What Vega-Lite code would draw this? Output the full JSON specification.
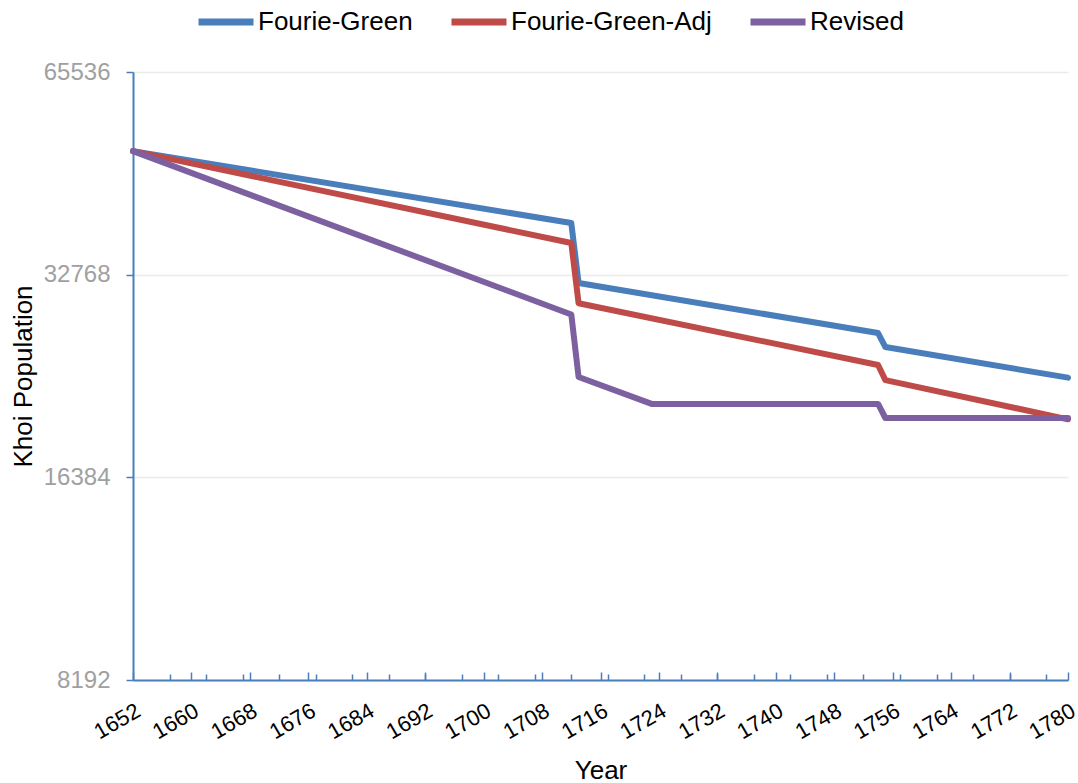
{
  "$schema": "https://vega.github.io/schema/vega-lite/v6.json",
  "width": 935,
  "height": 608,
  "autosize": {"type": "none"},
  "padding": {"left": 133, "top": 72, "right": 10, "bottom": 103},
  "background": "white",
  "config": {"font": "Liberation Sans", "view": {"stroke": null}},
  "data": {
    "values": [
      {"Year": 1652, "Series": "Fourie-Green", "Population": 50000},
      {"Year": 1712, "Series": "Fourie-Green", "Population": 39100},
      {"Year": 1713, "Series": "Fourie-Green", "Population": 31850},
      {"Year": 1754, "Series": "Fourie-Green", "Population": 26840},
      {"Year": 1755, "Series": "Fourie-Green", "Population": 25580},
      {"Year": 1780, "Series": "Fourie-Green", "Population": 23040},
      {"Year": 1652, "Series": "Fourie-Green-Adj", "Population": 50000},
      {"Year": 1712, "Series": "Fourie-Green-Adj", "Population": 36520},
      {"Year": 1713, "Series": "Fourie-Green-Adj", "Population": 29720},
      {"Year": 1754, "Series": "Fourie-Green-Adj", "Population": 24060},
      {"Year": 1755, "Series": "Fourie-Green-Adj", "Population": 22850},
      {"Year": 1780, "Series": "Fourie-Green-Adj", "Population": 19980},
      {"Year": 1652, "Series": "Revised", "Population": 50000},
      {"Year": 1712, "Series": "Revised", "Population": 28600},
      {"Year": 1713, "Series": "Revised", "Population": 23090},
      {"Year": 1723, "Series": "Revised", "Population": 21060},
      {"Year": 1754, "Series": "Revised", "Population": 21060},
      {"Year": 1755, "Series": "Revised", "Population": 20070},
      {"Year": 1780, "Series": "Revised", "Population": 20070}
    ]
  },
  "layer": [
    {
      "mark": {"type": "line", "strokeWidth": 6, "strokeCap": "round", "strokeJoin": "round"},
      "encoding": {
        "x": {
          "field": "Year",
          "type": "quantitative",
          "scale": {"domain": [1652, 1780], "nice": false, "zero": false},
          "axis": {
            "orient": "bottom",
            "title": "Year",
            "values": [1652, 1660, 1668, 1676, 1684, 1692, 1700, 1708, 1716, 1724, 1732, 1740, 1748, 1756, 1764, 1772, 1780],
            "format": "d",
            "labelAngle": -30,
            "labelAlign": "right",
            "labelBaseline": "top",
            "labelFontSize": 22,
            "labelColor": "black",
            "labelPadding": 28,
            "labelDx": -4,
            "labelOverlap": false,
            "labelFlush": false,
            "tickSize": -8,
            "tickColor": "#4a7ebb",
            "tickWidth": 1.5,
            "domainColor": "#4a7ebb",
            "domainWidth": 2,
            "grid": false,
            "titleFontSize": 26,
            "titleFontWeight": "normal",
            "titleColor": "black",
            "titleY": 98,
            "titleBaseline": "alphabetic"
          }
        },
        "y": {
          "field": "Population",
          "type": "quantitative",
          "scale": {"type": "log", "base": 2, "domain": [8192, 65536], "nice": false},
          "axis": {
            "title": "Khoi Population",
            "values": [8192, 16384, 32768, 65536],
            "format": "d",
            "labelFontSize": 24,
            "labelColor": "#a0a0a0",
            "labelPadding": 16,
            "tickSize": 7,
            "tickColor": "#4a7ebb",
            "tickWidth": 1.5,
            "domainColor": "#4a7ebb",
            "domainWidth": 2,
            "gridColor": "#ebebeb",
            "gridWidth": 1.5,
            "titleFontSize": 26,
            "titleFontWeight": "normal",
            "titleColor": "black",
            "titleX": -110,
            "titleBaseline": "middle"
          }
        },
        "color": {
          "field": "Series",
          "type": "nominal",
          "scale": {
            "domain": ["Fourie-Green", "Fourie-Green-Adj", "Revised"],
            "range": ["#4a7ebb", "#be4b48", "#7d60a0"]
          },
          "legend": {
            "title": null,
            "orient": "none",
            "legendX": 62,
            "legendY": -81,
            "direction": "horizontal",
            "symbolType": "stroke",
            "symbolSize": 3025,
            "symbolStrokeWidth": 7,
            "labelFontSize": 26,
            "labelColor": "black",
            "labelOffset": 1,
            "columnPadding": 24,
            "labelLimit": 400
          }
        }
      }
    },
    {
      "mark": {"type": "tick", "opacity": 0},
      "encoding": {
        "x": {
          "field": "Year",
          "type": "quantitative",
          "axis": {
            "orient": "bottom",
            "title": null,
            "values": [1657, 1662, 1667, 1672, 1677, 1682, 1687, 1692, 1697, 1702, 1707, 1712, 1717, 1722, 1727, 1732, 1737, 1742, 1747, 1752, 1757, 1762, 1767, 1772, 1777],
            "labels": false,
            "domain": false,
            "tickSize": -6,
            "tickColor": "#4a7ebb",
            "tickWidth": 1.5,
            "grid": false
          }
        }
      }
    }
  ],
  "resolve": {"axis": {"x": "independent"}}
}
